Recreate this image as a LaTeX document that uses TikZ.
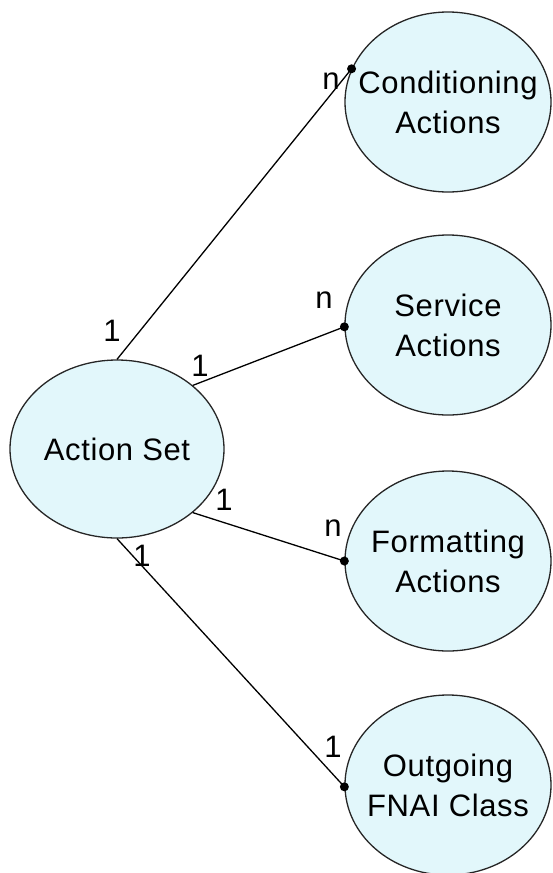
\documentclass[tikz,border=0pt]{standalone}
\usepackage{fontspec}
\setmainfont[LetterSpace=2]{Liberation Sans}
\usetikzlibrary{shapes.geometric}
\definecolor{entfill}{RGB}{226,247,251}
\begin{document}
\begin{tikzpicture}[x=1pt,y=-1pt,line width=1.3pt,
    font=\fontsize{31}{40}\selectfont,
    ent/.style={ellipse,draw=black!85,fill=entfill,inner sep=-30pt,align=center},
    dot/.style={circle,fill=black,inner sep=0pt,minimum size=9pt}]
    \useasboundingbox (0,0) rectangle (552,873);
    \node[ent, minimum width=214pt, minimum height=178pt] (set)  at (117,449) {Action Set};
    \node[ent, minimum width=206pt, minimum height=180pt] (cond) at (448,102) {Conditioning\\Actions};
    \node[ent, minimum width=206pt, minimum height=180pt] (serv) at (448,325) {Service\\Actions};
    \node[ent, minimum width=206pt, minimum height=180pt] (form) at (448,561) {Formatting\\Actions};
    \node[ent, minimum width=206pt, minimum height=180pt] (out)  at (448,785) {Outgoing\\FNAI Class};
    \path%
      (set.north) edge (cond.161)
      (set.40)    edge (serv.181)
      (set.-40)   edge (form.180)
      (set.south) edge (out.181);
    \node[dot] at (cond.161) {};
    \node[dot] at (serv.181) {};
    \node[dot] at (form.180) {};
    \node[dot] at (out.181) {};
    \node (c1) at (112,331) {1};
    \node (cn) at (331,81)  {n};
    \node (s1) at (200,366) {1};
    \node (sn) at (324,300) {n};
    \node (f1) at (224,500) {1};
    \node (fn) at (333,528) {n};
    \node (o1) at (142,556) {1};
    \node (on) at (333,747) {1};
\end{tikzpicture}
\end{document}
